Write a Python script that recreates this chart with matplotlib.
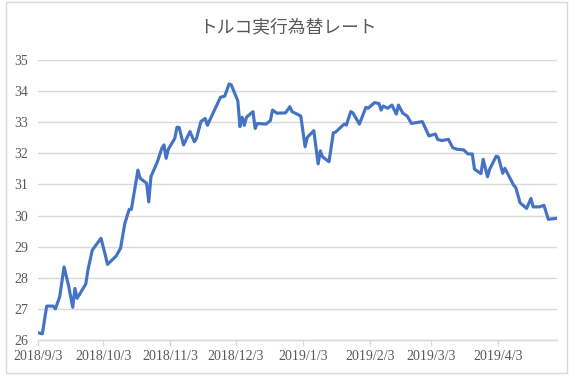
import matplotlib
matplotlib.use('Agg')
import matplotlib.pyplot as plt
import matplotlib.patches as patches
import pandas as pd

# トルコ実行為替レート
dates = ['2018-09-03', '2018-09-05', '2018-09-07', '2018-09-10', '2018-09-11', '2018-09-13',
         '2018-09-15', '2018-09-17', '2018-09-19', '2018-09-20', '2018-09-21', '2018-09-25',
         '2018-09-26', '2018-09-28', '2018-10-02', '2018-10-04', '2018-10-05', '2018-10-09',
         '2018-10-11', '2018-10-13', '2018-10-15', '2018-10-16', '2018-10-19', '2018-10-20',
         '2018-10-23', '2018-10-24', '2018-10-25', '2018-10-28', '2018-10-30', '2018-10-31',
         '2018-11-01', '2018-11-02', '2018-11-05', '2018-11-06', '2018-11-07', '2018-11-09',
         '2018-11-12', '2018-11-14', '2018-11-15', '2018-11-17', '2018-11-19', '2018-11-20',
         '2018-11-24', '2018-11-26', '2018-11-28', '2018-11-30', '2018-12-01', '2018-12-04',
         '2018-12-05', '2018-12-06', '2018-12-07', '2018-12-08', '2018-12-11', '2018-12-12',
         '2018-12-13', '2018-12-17', '2018-12-19', '2018-12-20', '2018-12-22', '2018-12-26',
         '2018-12-28', '2018-12-29', '2019-01-02', '2019-01-04', '2019-01-05', '2019-01-08',
         '2019-01-10', '2019-01-11', '2019-01-12', '2019-01-15', '2019-01-17', '2019-01-18',
         '2019-01-22', '2019-01-23', '2019-01-25', '2019-01-26', '2019-01-29', '2019-02-01',
         '2019-02-02', '2019-02-05', '2019-02-07', '2019-02-08', '2019-02-09', '2019-02-11',
         '2019-02-13', '2019-02-15', '2019-02-16', '2019-02-18', '2019-02-20', '2019-02-22',
         '2019-02-27', '2019-03-02', '2019-03-05', '2019-03-06', '2019-03-08', '2019-03-11',
         '2019-03-13', '2019-03-15', '2019-03-18', '2019-03-20', '2019-03-22', '2019-03-23',
         '2019-03-26', '2019-03-27', '2019-03-29', '2019-03-30', '2019-04-02', '2019-04-03',
         '2019-04-05', '2019-04-06', '2019-04-10', '2019-04-11', '2019-04-13', '2019-04-16',
         '2019-04-18', '2019-04-19', '2019-04-22', '2019-04-24', '2019-04-26', '2019-04-30']
rates = [26.23, 26.20, 27.09, 27.09, 27.00, 27.39,
         28.35, 27.77, 27.05, 27.66, 27.34, 27.80,
         28.25, 28.89, 29.27, 28.73, 28.43, 28.70,
         28.95, 29.75, 30.20, 30.20, 31.46, 31.20,
         31.04, 30.44, 31.25, 31.73, 32.16, 32.27,
         31.84, 32.13, 32.48, 32.84, 32.83, 32.27,
         32.70, 32.37, 32.48, 33.02, 33.12, 32.90,
         33.50, 33.80, 33.84, 34.23, 34.20, 33.69,
         32.86, 33.16, 32.90, 33.16, 33.34, 32.80,
         32.96, 32.94, 33.05, 33.39, 33.29, 33.30,
         33.50, 33.34, 33.20, 32.21, 32.51, 32.73,
         31.66, 32.08, 31.89, 31.73, 32.66, 32.68,
         32.94, 32.91, 33.34, 33.30, 32.94, 33.48,
         33.45, 33.63, 33.60, 33.39, 33.52, 33.45,
         33.55, 33.26, 33.55, 33.29, 33.20, 32.96,
         33.02, 32.56, 32.62, 32.45, 32.41, 32.45,
         32.18, 32.13, 32.11, 31.98, 31.98, 31.49,
         31.35, 31.81, 31.25, 31.49, 31.91, 31.88,
         31.36, 31.52, 30.98, 30.90, 30.41, 30.23,
         30.55, 30.28, 30.28, 30.33, 29.88, 29.91]
tick_dates = ['2018-09-03', '2018-10-03', '2018-11-03', '2018-12-03',
              '2019-01-03', '2019-02-03', '2019-03-03', '2019-04-03']
tick_labels = ['2018/9/3', '2018/10/3', '2018/11/3', '2018/12/3',
               '2019/1/3', '2019/2/3', '2019/3/3', '2019/4/3']
y_ticks = [26, 27, 28, 29, 30, 31, 32, 33, 34, 35]

x = pd.to_datetime(dates)
grey = '#595959'
grid_c = '#d9d9d9'

fig = plt.figure(figsize=(5.75, 3.78), dpi=100)
ax = fig.add_axes([0.0661, 0.1005, 0.9026, 0.7408])

ax.plot(x, rates, color='#4472C4', linewidth=2.25, solid_joinstyle='round')

ax.set_ylim(26, 35)
ax.set_xlim(pd.Timestamp('2018-09-03'), pd.Timestamp('2019-04-30'))
ax.set_yticks(y_ticks)
ax.set_xticks(pd.to_datetime(tick_dates))
ax.set_xticklabels(tick_labels)

for lab in ax.get_xticklabels() + ax.get_yticklabels():
    lab.set_family('Liberation Serif')
    lab.set_fontsize(10)
    lab.set_color(grey)

ax.grid(axis='y', color=grid_c, linewidth=1)
ax.set_axisbelow(True)
for s in ['top', 'right', 'left']:
    ax.spines[s].set_visible(False)
ax.spines['bottom'].set_color(grid_c)
ax.spines['bottom'].set_linewidth(1)
ax.tick_params(axis='y', length=0, pad=7)
ax.tick_params(axis='x', length=4, color=grid_c, width=1, pad=3)

fig.text(0.5, 0.928, 'トルコ実行為替レート', ha='center', va='center',
         fontsize=12.8, color=grey, family=['Noto Sans CJK JP', 'DejaVu Sans'])

# グラフエリアの枠線
fig.patches.append(patches.Rectangle((6 / 575, 1 - 373 / 378), 561 / 575, 371 / 378,
                                      transform=fig.transFigure, fill=False,
                                      edgecolor=grid_c, linewidth=1))

fig.savefig('out.png', dpi=100)
